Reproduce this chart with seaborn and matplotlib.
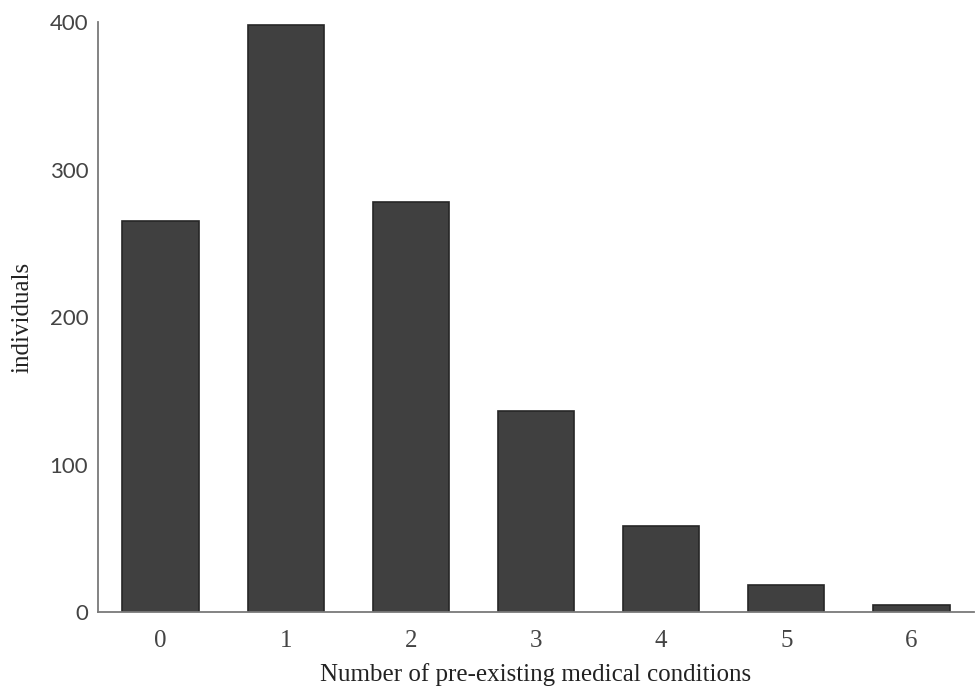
import matplotlib
matplotlib.use("Agg")
import matplotlib.pyplot as plt
import seaborn as sns
import pandas as pd

# --- datos ---
conditions = ["0", "1", "2", "3", "4", "5", "6"]
individuals = [265, 398, 278, 136, 58, 18, 5]

df = pd.DataFrame({"conditions": conditions, "individuals": individuals})

sns.set_style("white")
plt.rcParams["font.family"] = ["Liberation Serif", "DejaVu Serif"]

fig = plt.figure(figsize=(9.76, 6.91), dpi=100)
ax = fig.add_axes([0.1004, 0.1143, 0.8976, 0.8537])

sns.barplot(data=df, x="conditions", y="individuals", color="#404040",
            saturation=1, width=0.61, edgecolor="#262626", linewidth=1.2, ax=ax)

ax.set_ylim(0, 400)
ax.set_xlim(-0.5, 6.5)
ax.set_yticks([0, 100, 200, 300, 400])
ax.tick_params(axis="x", length=0, labelsize=18, colors="#444444", pad=13)
ax.tick_params(axis="y", length=0, labelsize=16, colors="#444444", pad=7)
for lbl in ax.get_yticklabels():
    lbl.set_family(["Lato", "DejaVu Sans"])

for s in ["top", "right"]:
    ax.spines[s].set_visible(False)
for s in ["left", "bottom"]:
    ax.spines[s].set_color("#7a7a7a")
    ax.spines[s].set_linewidth(1.3)

ax.set_xlabel("Number of pre-existing medical conditions", fontsize=18, color="#222222", labelpad=8)
ax.set_ylabel("individuals", fontsize=18, color="#222222", labelpad=12)

fig.savefig("out.png", dpi=100)
